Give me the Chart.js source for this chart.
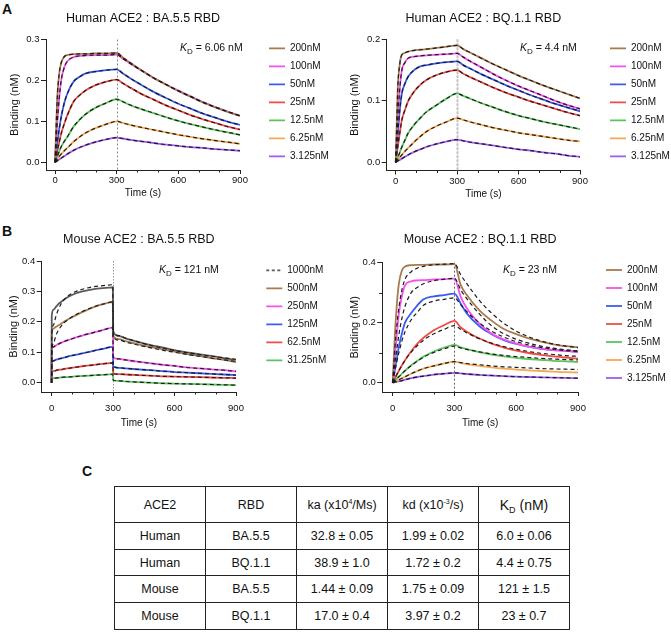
<!DOCTYPE html>
<html><head><meta charset="utf-8">
<script src="https://cdn.jsdelivr.net/npm/chart.js@4.4.0/dist/chart.umd.min.js"></script>
<style>
html,body{margin:0;padding:0;background:#fff;}
body{width:671px;height:633px;position:relative;overflow:hidden;font-family:"Liberation Sans",Arial,sans-serif;color:#111;}
canvas{position:absolute;}
.lbl{position:absolute;font-weight:bold;font-size:14px;line-height:14px;}
.kd{position:absolute;font-size:10.5px;line-height:13px;white-space:nowrap;}
.kd sub{font-size:8px;vertical-align:-3px;line-height:0;}
#tbl{position:absolute;left:114px;top:486px;width:456px;border-collapse:collapse;table-layout:fixed;font-size:12.5px;}
#tbl td{border:1.4px solid #222;text-align:center;padding:0;height:25.6px;}
#tbl tr.h td{height:35.2px;}
#tbl sup{font-size:7px;vertical-align:5px;line-height:0;}
#tbl .big{font-size:14px;}
#tbl .big sub{font-size:9px;vertical-align:-3px;line-height:0;}
</style></head><body>
<div class="lbl" style="left:2px;top:2px">A</div>
<div class="lbl" style="left:2px;top:224px">B</div>
<div class="lbl" style="left:82px;top:464px">C</div>
<canvas id="a1" width="335" height="205" style="left:0;top:0"></canvas>
<canvas id="a2" width="336" height="205" style="left:335px;top:0"></canvas>
<canvas id="b1" width="335" height="220" style="left:0;top:215px"></canvas>
<canvas id="b2" width="336" height="220" style="left:335px;top:215px"></canvas>
<div class="kd" style="left:180px;top:41px"><i>K</i><sub>D</sub> = 6.06 nM</div>
<div class="kd" style="left:520px;top:41px"><i>K</i><sub>D</sub> = 4.4 nM</div>
<div class="kd" style="left:159px;top:263px"><i>K</i><sub>D</sub> = 121 nM</div>
<div class="kd" style="left:503px;top:263px"><i>K</i><sub>D</sub> = 23 nM</div>
<table id="tbl"></table>
<script>
// ---------- data ----------
const timesA = [0,10,20,30,45,60,90,120,150,200,250,300,330,360,420,480,540,600,660,720,780,840,900];
const timesB1 = [0,1,10,20,30,45,60,90,120,150,200,250,299,301,330,360,420,480,540,600,660,720,780,840,900];

const concHuman = ['200nM','100nM','50nM','25nM','12.5nM','6.25nM','3.125nM'];
const concMouseBA5 = ['1000nM','500nM','250nM','125nM','62.5nM','31.25nM'];

// Human ACE2 : BA.5.5
const a1_200 = [0,0.15,0.215,0.243,0.258,0.262,0.264,0.265,0.265,0.266,0.266,0.267,0.256,0.245,0.225,0.206,0.19,0.174,0.16,0.146,0.134,0.123,0.113];
const a1_100 = [0,0.09,0.155,0.2,0.232,0.247,0.257,0.26,0.261,0.262,0.262,0.263,0.253,0.243,0.224,0.206,0.19,0.175,0.161,0.147,0.135,0.124,0.114];
const a1_50  = [0,0.045,0.08,0.111,0.145,0.168,0.197,0.209,0.217,0.222,0.225,0.227,0.217,0.207,0.189,0.172,0.157,0.143,0.131,0.119,0.109,0.099,0.091];
const a1_25  = [0,0.025,0.048,0.07,0.094,0.115,0.148,0.164,0.176,0.189,0.197,0.202,0.193,0.184,0.167,0.153,0.139,0.127,0.115,0.105,0.096,0.087,0.08];
const a1_12  = [0,0.013,0.026,0.038,0.051,0.062,0.087,0.104,0.118,0.134,0.145,0.154,0.148,0.141,0.13,0.12,0.11,0.101,0.093,0.086,0.079,0.073,0.067];
const a1_6   = [0,0.007,0.014,0.02,0.028,0.035,0.05,0.062,0.072,0.084,0.093,0.1,0.096,0.092,0.085,0.079,0.073,0.067,0.062,0.057,0.053,0.049,0.045];
const a1_3   = [0,0.003,0.007,0.01,0.015,0.02,0.029,0.036,0.042,0.05,0.056,0.06,0.058,0.055,0.051,0.047,0.043,0.04,0.037,0.035,0.032,0.03,0.028];

// Human ACE2 : BQ.1.1
const a2_200 = [0,0.12,0.16,0.175,0.178,0.18,0.182,0.183,0.184,0.186,0.188,0.19,0.184,0.179,0.169,0.159,0.15,0.141,0.133,0.125,0.118,0.111,0.104];
const a2_100 = [0,0.07,0.12,0.15,0.162,0.169,0.172,0.173,0.174,0.175,0.176,0.177,0.171,0.165,0.154,0.143,0.133,0.124,0.116,0.108,0.1,0.093,0.087];
const a2_50  = [0,0.045,0.085,0.112,0.128,0.139,0.15,0.156,0.158,0.161,0.163,0.164,0.158,0.153,0.143,0.134,0.125,0.117,0.109,0.102,0.095,0.089,0.083];
const a2_25  = [0,0.025,0.048,0.069,0.085,0.099,0.115,0.126,0.134,0.142,0.147,0.15,0.144,0.139,0.13,0.121,0.113,0.106,0.099,0.093,0.087,0.081,0.076];
const a2_12  = [0,0.008,0.016,0.025,0.036,0.047,0.061,0.072,0.082,0.093,0.104,0.112,0.108,0.104,0.096,0.089,0.082,0.076,0.071,0.066,0.062,0.058,0.054];
const a2_6   = [0,0.004,0.008,0.012,0.018,0.023,0.033,0.042,0.05,0.059,0.066,0.072,0.069,0.066,0.061,0.056,0.052,0.048,0.045,0.042,0.039,0.036,0.034];
const a2_3   = [0,0.002,0.004,0.006,0.009,0.012,0.017,0.021,0.025,0.03,0.034,0.037,0.035,0.033,0.03,0.027,0.024,0.021,0.019,0.016,0.014,0.011,0.009];

// Mouse ACE2 : BA.5.5 (timesB1)
const b1_1000 = [0,0.22,0.24,0.248,0.256,0.265,0.273,0.285,0.294,0.3,0.307,0.311,0.313,0.166,0.153,0.146,0.135,0.124,0.116,0.107,0.1,0.093,0.088,0.081,0.075];
const b1_1000fit = [0,0.15,0.19,0.215,0.235,0.257,0.272,0.29,0.3,0.307,0.315,0.319,0.322,0.17,0.155,0.147,0.134,0.123,0.114,0.106,0.099,0.093,0.087,0.082,0.077];
const b1_500 = [0,0.17,0.178,0.183,0.187,0.193,0.2,0.212,0.222,0.232,0.247,0.258,0.265,0.153,0.143,0.137,0.127,0.118,0.11,0.102,0.094,0.088,0.081,0.075,0.068];
const b1_500fit = [0,0.1,0.13,0.152,0.168,0.184,0.196,0.212,0.224,0.234,0.248,0.258,0.266,0.15,0.14,0.134,0.124,0.115,0.107,0.1,0.093,0.087,0.081,0.075,0.07];
const b1_250 = [0,0.112,0.118,0.122,0.126,0.131,0.135,0.142,0.149,0.155,0.164,0.173,0.181,0.083,0.078,0.075,0.069,0.064,0.059,0.055,0.05,0.047,0.044,0.041,0.037];
const b1_125 = [0,0.068,0.072,0.075,0.077,0.08,0.082,0.088,0.092,0.096,0.104,0.111,0.118,0.053,0.049,0.047,0.044,0.041,0.038,0.035,0.033,0.031,0.029,0.027,0.025];
const b1_62  = [0,0.036,0.038,0.04,0.042,0.043,0.045,0.048,0.051,0.054,0.058,0.062,0.065,0.03,0.028,0.027,0.025,0.023,0.021,0.02,0.019,0.018,0.017,0.016,0.015];
const b1_31  = [0,0.013,0.015,0.015,0.016,0.017,0.018,0.019,0.021,0.022,0.024,0.026,0.028,0.008,0.006,0.004,0.002,0,-0.002,-0.003,-0.004,-0.005,-0.006,-0.007,-0.008];

// Mouse ACE2 : BQ.1.1 (timesA)
const b2_200 = [0,0.15,0.26,0.33,0.375,0.387,0.392,0.393,0.393,0.394,0.394,0.395,0.326,0.292,0.242,0.207,0.179,0.162,0.148,0.137,0.128,0.122,0.118];
const b2_200fit = [0,0.11,0.19,0.25,0.31,0.345,0.37,0.382,0.388,0.393,0.395,0.397,0.36,0.33,0.275,0.232,0.198,0.172,0.153,0.139,0.129,0.122,0.117];
const b2_100 = [0,0.08,0.16,0.23,0.29,0.325,0.338,0.341,0.342,0.344,0.345,0.347,0.287,0.248,0.198,0.164,0.144,0.131,0.12,0.114,0.109,0.106,0.103];
const b2_100fit = [0,0.06,0.11,0.16,0.215,0.255,0.3,0.318,0.33,0.34,0.345,0.348,0.31,0.28,0.23,0.19,0.163,0.145,0.132,0.122,0.115,0.11,0.106];
const b2_50  = [0,0.04,0.08,0.12,0.165,0.2,0.232,0.258,0.278,0.288,0.292,0.297,0.264,0.231,0.189,0.162,0.142,0.129,0.12,0.113,0.109,0.106,0.102];
const b2_50fit = [0,0.035,0.07,0.1,0.14,0.17,0.21,0.235,0.258,0.272,0.278,0.283,0.26,0.237,0.2,0.172,0.152,0.137,0.126,0.118,0.112,0.107,0.104];
const b2_25  = [0,0.013,0.027,0.04,0.058,0.075,0.105,0.13,0.15,0.175,0.192,0.206,0.185,0.17,0.148,0.13,0.117,0.107,0.099,0.093,0.088,0.084,0.08];
const b2_25fit = [0,0.013,0.027,0.04,0.058,0.075,0.102,0.124,0.142,0.163,0.178,0.19,0.178,0.166,0.147,0.132,0.12,0.111,0.104,0.098,0.094,0.09,0.088];
const b2_12  = [0,0.007,0.014,0.02,0.03,0.04,0.058,0.073,0.087,0.104,0.117,0.126,0.118,0.112,0.102,0.094,0.088,0.083,0.079,0.076,0.073,0.071,0.069];
const b2_12fit = [0,0.007,0.014,0.02,0.03,0.04,0.057,0.072,0.085,0.101,0.113,0.122,0.116,0.111,0.103,0.096,0.091,0.087,0.084,0.081,0.079,0.077,0.076];
const b2_6   = [0,0.003,0.007,0.01,0.015,0.02,0.03,0.039,0.047,0.056,0.064,0.07,0.066,0.062,0.056,0.051,0.047,0.044,0.041,0.039,0.037,0.035,0.034];
const b2_6fit = [0,0.003,0.007,0.01,0.015,0.02,0.03,0.039,0.047,0.056,0.064,0.07,0.067,0.064,0.06,0.056,0.053,0.051,0.049,0.047,0.046,0.045,0.044];
const b2_3   = [0,0.002,0.003,0.005,0.007,0.01,0.015,0.019,0.022,0.027,0.03,0.033,0.031,0.029,0.026,0.024,0.022,0.02,0.019,0.018,0.017,0.016,0.015];

const xTicks = [0,300,600,900];
const xMinor = [100,200,400,500,700,800];

const tableHeader = ['ACE2','RBD','ka (x10<sup>4</sup>/Ms)','kd (x10<sup>-3</sup>/s)','<span class="big">K<sub>D</sub> (nM)</span>'];
const tableRows = [
  ['Human','BA.5.5','32.8 ± 0.05','1.99 ± 0.02','6.0 ± 0.06'],
  ['Human','BQ.1.1','38.9 ± 1.0','1.72 ± 0.2','4.4 ± 0.75'],
  ['Mouse','BA.5.5','1.44 ± 0.09','1.75 ± 0.09','121 ± 1.5'],
  ['Mouse','BQ.1.1','17.0 ± 0.4','3.97 ± 0.2','23 ± 0.7']
];

// ---------- styling ----------
const COL = {brown:'#a87a4e', pink:'#f550f0', blue:'#3a5cf5', red:'#f24a45', green:'#5cc45c', orange:'#f7a852', purple:'#a25af5', gray:'#5a5a5a'};
const humanColors = [COL.brown,COL.pink,COL.blue,COL.red,COL.green,COL.orange,COL.purple];
const b1Colors = [COL.gray,COL.brown,COL.pink,COL.blue,COL.red,COL.green];

Chart.defaults.font.family = "'Liberation Sans', Arial, sans-serif";
Chart.defaults.color = '#111';

const extras = {
  id:'extras',
  beforeLayout(chart, args, o){
    const lg = chart.legend;
    if (lg && !lg.__p){ const f = lg.fit; lg.fit = function(){ f.call(this); this.width = o.legendW; }; lg.__p = true; }
  },
  afterLayout(chart, args, o){
    const lg = chart.legend; if (!lg) return;
    const h = lg.height;
    lg.left = o.legendX; lg.right = o.legendX + o.legendW;
    lg.top = o.legendY; lg.bottom = o.legendY + h;
  },
  beforeDatasetsDraw(chart, args, o){
    const {ctx, chartArea:a, scales:{x}} = chart;
    const p = Math.round(x.getPixelForValue(300)) + 0.5;
    ctx.save(); ctx.strokeStyle = o.markColor; ctx.lineWidth = o.markWidth; ctx.setLineDash(o.markDash);
    ctx.beginPath(); ctx.moveTo(p, a.top); ctx.lineTo(p, a.bottom); ctx.stroke(); ctx.restore();
  },
  afterDraw(chart, args, o){
    const {ctx, chartArea:a, scales:{x,y}} = chart;
    ctx.save(); ctx.strokeStyle = '#222'; ctx.lineWidth = 1; ctx.beginPath();
    xMinor.forEach(v => { const p = Math.round(x.getPixelForValue(v)) + 0.5; ctx.moveTo(p, a.bottom); ctx.lineTo(p, a.bottom + 2.5); });
    (o.yMinor || []).forEach(v => { const p = Math.round(y.getPixelForValue(v)) + 0.5; ctx.moveTo(a.left, p); ctx.lineTo(a.left - 3, p); });
    ctx.stroke(); ctx.restore();
  }
};

function build(times, labels, colors, dataArr, fitArr){
  const ds = [];
  labels.forEach((l,i) => ds.push({
    label:l, data: times.map((t,k)=>({x:t, y:dataArr[i][k]})), borderColor:colors[i], backgroundColor:colors[i],
    borderWidth:1.8, pointRadius:0, cubicInterpolationMode:'monotone', order:1
  }));
  labels.forEach((l,i) => ds.push({
    label:'fit '+l, isFit:true, data: times.map((t,k)=>({x:t, y:(fitArr[i]||dataArr[i])[k]})), borderColor:'#1c1c1c',
    borderWidth:1.2, borderDash:[4,3], pointRadius:0, cubicInterpolationMode:'monotone', order:0
  }));
  return ds;
}

function makeChart(id, cfg){
  return new Chart(document.getElementById(id), {
    type:'line',
    data:{datasets: build(cfg.times, cfg.labels, cfg.colors, cfg.data, cfg.fits)},
    options:{
      responsive:false, animation:false, events:[],
      layout:{padding:cfg.pad},
      scales:{
        x:{type:'linear', min:cfg.xmin, max:900,
           afterBuildTicks: s => { s.ticks = xTicks.map(v=>({value:v})); },
           afterFit: s => { s.height = cfg.xh; },
           grid:{display:true, drawOnChartArea:false, drawTicks:true, tickLength:4, color:'#222'},
           border:{display:true, color:'#222', width:1},
           ticks:{font:{size:9.5}, padding:cfg.xtp, color:'#111', maxRotation:0},
           title:{display:true, text:'Time (s)', font:{size:10}, padding:{top:0,bottom:cfg.xtb}, color:'#111'}},
        y:{type:'linear', min:cfg.ymin, max:cfg.ymax,
           afterBuildTicks: s => { s.ticks = cfg.yTicks.map(v=>({value:v})); },
           afterFit: s => { s.width = cfg.yw; },
           grid:{display:true, drawOnChartArea:false, drawTicks:true, tickLength:5, color:'#222'},
           border:{display:true, color:'#222', width:1},
           ticks:{font:{size:9.5}, padding:1.5, color:'#111', callback: v => Number(v).toFixed(1)},
           title:{display:true, text:'Binding (nM)', font:{size:11}, padding:{top:4.4,bottom:0}, color:'#111'}}
      },
      plugins:{
        title:{display:true, text:cfg.title, fullSize:false, font:{size:12.5, weight:'normal'}, color:'#111', padding:cfg.tpad},
        legend:{display:true, position:'right', align:'start',
          labels:{usePointStyle:true, pointStyle:'line', pointStyleWidth:16, padding:8, font:{size:10}, color:'#111',
            filter: (item, data) => !data.datasets[item.datasetIndex].isFit,
            generateLabels: chart => Chart.defaults.plugins.legend.labels.generateLabels(chart).map(it => {
              if (cfg.dashFirst && it.datasetIndex === 0) { it.lineDash = [3,2.5]; }
              return it; })
          }},
        tooltip:{enabled:false},
        extras:{legendW:70, legendX:cfg.legendX, legendY:cfg.legendY, markColor:cfg.markColor, markWidth:cfg.markWidth, markDash:cfg.markDash, yMinor:cfg.yMinor}
      }
    },
    plugins:[extras]
  });
}

makeChart('a1', {
  title:'Human ACE2 : BA.5.5 RBD', times:timesA, labels:concHuman, colors:humanColors,
  data:[a1_200,a1_100,a1_50,a1_25,a1_12,a1_6,a1_3], fits:[],
  xmin:-44, ymin:-0.019, ymax:0.3, yTicks:[0,0.1,0.2,0.3],
  pad:{left:4,right:25,top:0,bottom:5}, yw:42, xh:30, xtp:1, xtb:0.5,
  tpad:{top:11.5,bottom:13}, legendX:261, legendY:35.3,
  markColor:'#888', markWidth:1, markDash:[2,2]
});
makeChart('a2', {
  title:'Human ACE2 : BQ.1.1 RBD', times:timesA, labels:concHuman, colors:humanColors,
  data:[a2_200,a2_100,a2_50,a2_25,a2_12,a2_6,a2_3], fits:[],
  xmin:-44, ymin:-0.0133, ymax:0.2, yTicks:[0,0.1,0.2],
  pad:{left:9,right:21,top:0,bottom:4.5}, yw:42.7, xh:30, xtp:1, xtb:0.5,
  tpad:{top:11.5,bottom:12.8}, legendX:267, legendY:35.3,
  markColor:'#c4c4c4', markWidth:2, markDash:[3,1]
});
makeChart('b1', {
  title:'Mouse ACE2 : BA.5.5 RBD', times:timesB1, labels:concMouseBA5, colors:b1Colors,
  data:[b1_1000,b1_500,b1_250,b1_125,b1_62,b1_31], fits:[b1_1000fit,b1_500fit],
  xmin:-48, ymin:-0.0306, ymax:0.4, yTicks:[0,0.1,0.2,0.3,0.4],
  pad:{left:3,right:29,top:0,bottom:6}, yw:38.7, xh:37, xtp:6.3, xtb:0,
  tpad:{top:17.5,bottom:13.5}, legendX:258.3, legendY:42.3, dashFirst:true,
  markColor:'#999', markWidth:1, markDash:[1.5,1.5]
});
makeChart('b2', {
  title:'Mouse ACE2 : BQ.1.1 RBD', times:timesA, labels:concHuman, colors:humanColors,
  data:[b2_200,b2_100,b2_50,b2_25,b2_12,b2_6,b2_3], fits:[b2_200fit,b2_100fit,b2_50fit,b2_25fit,b2_12fit,b2_6fit],
  xmin:-50.5, ymin:-0.031, ymax:0.4, yTicks:[0,0.2,0.4], yMinor:[0.1,0.3],
  pad:{left:9,right:23,top:0,bottom:6}, yw:38.3, xh:37, xtp:6.3, xtb:0,
  tpad:{top:17.5,bottom:15.2}, legendX:263, legendY:42,
  markColor:'#666', markWidth:1, markDash:[2,2]
});

// table
const tbl = document.getElementById('tbl');
let html = '<colgroup>' + tableHeader.map(()=>'<col style="width:20%">').join('') + '</colgroup>';
html += '<tr class="h">' + tableHeader.map(h=>'<td>'+h+'</td>').join('') + '</tr>';
tableRows.forEach(r => { html += '<tr>' + r.map(c=>'<td>'+c+'</td>').join('') + '</tr>'; });
tbl.innerHTML = html;
</script>
</body></html>
